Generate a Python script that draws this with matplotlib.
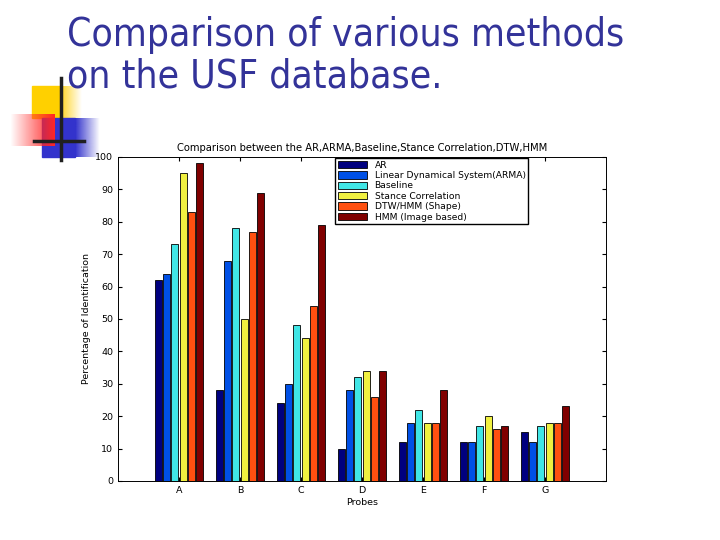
import numpy as np
import matplotlib.pyplot as plt
from matplotlib.patches import Rectangle

probes = ["A", "B", "C", "D", "E", "F", "G"]
methods = ["AR", "Linear Dynamical System(ARMA)", "Baseline",
           "Stance Correlation", "DTW/HMM (Shape)", "HMM (Image based)"]
ar = [62, 28, 24, 10, 12, 12, 15]
arma = [64, 68, 30, 28, 18, 12, 12]
baseline = [73, 78, 48, 32, 22, 17, 17]
stance = [95, 50, 44, 34, 18, 20, 18]
dtw = [83, 77, 54, 26, 18, 16, 18]
hmm = [98, 89, 79, 34, 28, 17, 23]
series = [ar, arma, baseline, stance, dtw, hmm]
colours = ["#00007f", "#0050e6", "#40e6e6", "#f0f040", "#ff5010", "#800000"]

fig = plt.figure(figsize=(7.2, 5.4), dpi=100)

# slide decoration (pixel coordinates)
bg = fig.add_axes([0, 0, 1, 1])
bg.set_xlim(0, 720)
bg.set_ylim(540, 0)
bg.axis("off")
grad = np.linspace(1, 0, 50).reshape(1, -1)
bg.add_patch(Rectangle((32, 86), 30, 32, color="#ffd000", zorder=1))
bg.imshow(np.dstack([np.full((1, 50, 3), [1, 0.85, 0.2]), grad]), extent=(62, 82, 118, 86), aspect="auto", zorder=1)
bg.add_patch(Rectangle((42, 118), 33, 39, color="#3333cc", zorder=2))
bg.imshow(np.dstack([np.full((1, 50, 3), [0.2, 0.2, 0.8]), grad]), extent=(75, 100, 157, 118), aspect="auto", zorder=2)
bg.imshow(np.dstack([np.full((1, 50, 3), [1, 0.15, 0.15]), grad[:, ::-1]]), extent=(10, 55, 146, 114), aspect="auto", zorder=3)
bg.plot([61, 61], [78, 160], color="#202020", lw=2.5, zorder=4)
bg.plot([34, 84], [141, 141], color="#202020", lw=2.5, zorder=4)

fig.text(0.093, 0.971, "Comparison of various methods\non the USF database.",
         fontsize=28, color="#333399", family="DejaVu Sans",
         stretch="condensed", va="top", ha="left", linespacing=1.12)

ax = fig.add_axes([118 / 720, 1 - 481 / 540, 488 / 720, 324 / 540])
x = np.arange(1, len(probes) + 1)
w = 0.8 / 6
for i, vals in enumerate(series):
    ax.bar(x - 0.4 + w * (i + 0.5), vals, w * 0.85, color=colours[i],
           edgecolor="black", linewidth=0.6, label=methods[i])

ax.set_xlim(0, 8)
ax.set_ylim(0, 100)
ax.set_xticks(x)
ax.set_xticklabels(probes)
ax.set_yticks(range(0, 101, 10))
ax.tick_params(direction="in", top=True, right=True, labelsize=6.8, length=3)
for s in ax.spines.values():
    s.set_linewidth(0.7)
ax.set_title("Comparison between the AR,ARMA,Baseline,Stance Correlation,DTW,HMM",
             fontsize=7.2, pad=4)
ax.set_xlabel("Probes", fontsize=6.8, labelpad=2)
ax.set_ylabel("Percentage of Identification", fontsize=6.8, labelpad=3)
ax.legend(loc="upper left", bbox_to_anchor=(0.443, 1.0), fontsize=6.6,
          fancybox=False, edgecolor="black", framealpha=1,
          handlelength=3.2, handleheight=0.85, labelspacing=0.15,
          borderpad=0.3, borderaxespad=0.1)

fig.savefig("out.png", dpi=100)
